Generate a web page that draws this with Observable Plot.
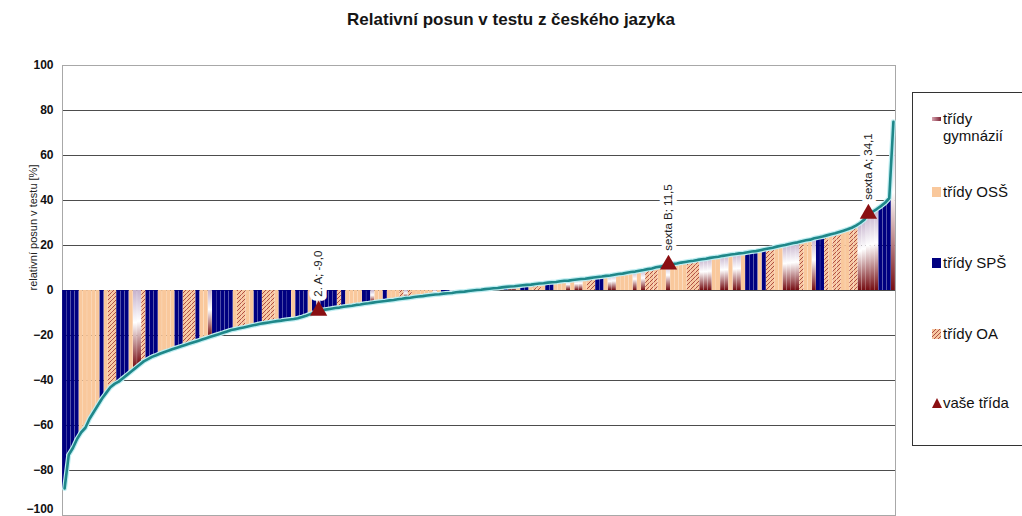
<!DOCTYPE html>
<html>
<head>
<meta charset="utf-8">
<script src="https://cdn.jsdelivr.net/npm/d3@7"></script>
<script src="https://cdn.jsdelivr.net/npm/@observablehq/plot@0.6"></script>
<style>
  html, body { margin: 0; padding: 0; background: #fff; }
  body { width: 1022px; height: 516px; overflow: hidden; position: relative; font-family: "Liberation Sans", Arial, sans-serif; color: #111; }
  #title { position: absolute; left: 0; top: 10px; width: 1022px; text-align: center; font-size: 17px; font-weight: bold; color: #151515; }
  #chart { position: absolute; left: 0; top: 40px; }
  #legend { position: absolute; left: 912px; top: 92px; width: 140px; height: 352px; border: 1px solid #333; background: #fff; }
  .item { position: absolute; left: 20px; font-size: 15px; line-height: 17px; color: #111; white-space: nowrap; }
  .sw { position: absolute; left: -1px; line-height: 0; }
  .sw svg { display: block; }
  .item span { position: absolute; left: 10px; }
</style>
</head>
<body>
<div id="title">Relativní posun v testu z českého jazyka</div>
<div id="chart"></div>
<div id="legend"></div>
<script>
// ---- data ----
const values = [
  -88, -73, -70, -66, -63, -61, -57, -54, -51, -48,
  -45.5, -43, -41.5, -40.5, -39, -37.5, -36, -34.5, -33, -31.5,
  -30.5, -29.5, -28.8, -28, -27.3, -26.7, -26, -25.4, -24.8, -24.2,
  -23.6, -23, -22.4, -21.8, -21.2, -20.6, -20, -19.4, -18.8, -18.2,
  -17.6, -17.2, -16.8, -16.4, -16, -15.6, -15.2, -14.8, -14.5, -14.2,
  -13.9, -13.6, -13.4, -13.1, -12.9, -12.7, -12.3, -11.8, -11.2, -10.5,
  -9.8, -9.0, -8.7, -8.4, -8.1, -7.8, -7.6, -7.2, -7.0, -6.8,
  -6.4, -6.2, -5.9, -5.7, -5.4, -5.1, -4.9, -4.7, -4.4, -4.2,
  -3.9, -3.7, -3.4, -3.2, -2.9, -2.7, -2.5, -2.2, -2.0, -1.8,
  -1.7, -1.4, -1.2, -1.1, -0.8, -0.6, -0.5, -0.2, 0.0, 0.2,
  0.3, 0.6, 0.8, 1.0, 1.1, 1.4, 1.6, 1.8, 1.9, 2.1,
  2.3, 2.5, 2.6, 2.9, 3.1, 3.2, 3.5, 3.7, 3.8, 4.1,
  4.3, 4.4, 4.7, 4.9, 5.1, 5.2, 5.5, 5.8, 6.0, 6.2,
  6.5, 6.7, 7.0, 7.3, 7.5, 7.9, 8.2, 8.4, 8.8, 9.1,
  9.5, 9.8, 10.3, 10.6, 11.1, 11.5, 11.8, 12.0, 12.4, 12.7,
  13.0, 13.2, 13.6, 13.9, 14.1, 14.5, 14.8, 15.0, 15.4, 15.7,
  16.0, 16.2, 16.5, 16.7, 17.0, 17.3, 17.5, 17.9, 18.3, 18.7,
  19.0, 19.5, 19.9, 20.2, 20.7, 21.1, 21.4, 21.9, 22.3, 22.6,
  23.2, 23.6, 24.0, 24.5, 25.0, 25.4, 26.0, 26.6, 27.2, 27.9,
  28.8, 30.0, 31.5, 34.1, 35.0, 36.2, 37.5, 39.0, 41.0, 75.0
];
// G = gymnázium, O = OSŠ, S = SPŠ, A = OA
const types = [
  "S","S","S","S","O","O","O","O","O","S",
  "O","A","A","S","S","S","O","G","G","A",
  "S","S","S","O","O","O","O","S","S","A",
  "A","A","S","O","O","G","S","S","S","S",
  "S","O","A","A","O","O","S","S","A","A",
  "A","O","S","S","S","O","S","S","S","O",
  "S","G","S","S","S","S","A","S","O","O",
  "O","O","S","S","G","O","O","S","O","O",
  "O","A","G","A","O","O","O","O","O","G",
  "O","S","S","G","O","O","O","G","O","O",
  "O","S","O","G","A","O","S","G","G","O",
  "S","S","O","A","A","O","S","S","O","O",
  "O","G","O","G","G","O","A","A","S","S",
  "O","G","G","O","O","O","O","G","O","G",
  "A","A","A","O","O","G","O","O","O","O",
  "A","A","A","G","G","G","O","O","G","G",
  "O","G","G","O","S","S","S","O","S","A",
  "A","O","O","G","G","G","G","A","O","O",
  "G","S","S","A","O","A","A","O","O","A",
  "A","G","G","G","G","G","S","S","S","G"
];
const typeOrder = ["G", "O", "S", "A"];
const typeNames = ["třídy gymnázií", "třídy OSŠ", "třídy SPŠ", "třídy OA"];
const myNames = ["2. A", "sexta B", "sexta A"];
const myRanks = [61, 145, 193];
const myLabel = "vaše třída";
const yTicks = [-80, -60, -40, -20, 0, 20, 40, 60, 80, 100];
const yTickBottom = [-100];
const gridTicks = [-80, -60, -40, -20, 0, 20, 40, 60, 80];
const yLabel = "relativní posun v testu [%]";

// ---- build ----
const data = values.map((v, i) => ({i, v, t: types[i]}));
const mine = myRanks.map((r, k) => ({i: r, v: values[r], name: myNames[k]}));
const fills = {G: "url(#gymGrad)", O: "#f9c89c", S: "#000080", A: "url(#oaPat)"};
const fmt = v => v.toFixed(1).replace(".", ",");
const axisStyle = {tickSize: 0, tickPadding: 9, fontSize: 12, fontWeight: "bold", label: null, fill: "#111"};

const svg = Plot.plot({
  width: 1022,
  height: 495,
  marginLeft: 62,
  marginRight: 127,
  marginTop: 25,
  marginBottom: 20,
  style: {fontFamily: "Liberation Sans, Arial, sans-serif", background: "transparent"},
  x: {domain: [0, values.length], axis: null},
  y: {domain: [-100, 100], axis: null},
  marks: [
    Plot.ruleY(gridTicks, {stroke: "#4d4d4d", strokeWidth: 1.2}),
    Plot.frame({stroke: "#a8a8a8"}),
    ...typeOrder.map(t => Plot.rect(data.filter(d => d.t === t), {
      x1: d => d.i, x2: d => d.i + 1, y1: d => 0, y2: "v",
      fill: fills[t], insetLeft: 0.1, insetRight: 0.1
    })),
    Plot.lineY(data, {x: d => d.i + 0.5, y: "v", stroke: "#bfeef2", strokeWidth: 5}),
    Plot.lineY(data, {x: d => d.i + 0.5, y: "v", stroke: "#1f8789", strokeWidth: 2.6}),
    Plot.dot(mine, {x: d => d.i + 0.5, y: "v", symbol: "triangle", fill: "#8a0f12", r: 6.4}),
    Plot.text(mine, {
      x: d => d.i + 0.5, y: "v", text: d => `${d.name}; ${fmt(d.v)}`,
      rotate: -90, textAnchor: "start", dy: -14, fontSize: 11.5,
      fill: "#222", stroke: "white", strokeWidth: 9
    }),
    Plot.axisY({ticks: yTicks, ...axisStyle}),
    Plot.axisY({ticks: yTickBottom, ...axisStyle, dy: -6}),
    Plot.text([yLabel], {text: d => d, frameAnchor: "left", dx: -29, rotate: -90, fontSize: 11, fill: "#222"})
  ]
});

svg.insertAdjacentHTML("afterbegin", `
<defs>
  <linearGradient id="gymGrad" x1="0" y1="0" x2="0" y2="1">
    <stop offset="0" stop-color="#c5b1cc"/>
    <stop offset="0.42" stop-color="#ffffff"/>
    <stop offset="1" stop-color="#760d12"/>
  </linearGradient>
  <linearGradient id="gymGradH" x1="0" y1="0" x2="1" y2="0">
    <stop offset="0" stop-color="#d6a3b0"/>
    <stop offset="1" stop-color="#7a2030"/>
  </linearGradient>
  <pattern id="oaPat" patternUnits="userSpaceOnUse" width="4" height="4">
    <rect width="4" height="4" fill="#f7c7a0"/>
    <path d="M0,4 L4,0 M-1,1 L1,-1 M3,5 L5,3" stroke="#a8423a" stroke-width="0.9"/>
  </pattern>
</defs>`);
document.getElementById("chart").appendChild(svg);

// ---- legend ----
const legend = document.getElementById("legend");
const swatchSvg = {
  G: `<svg width="9" height="4"><rect width="9" height="4" fill="url(#gymGradH)"/></svg>`,
  O: `<svg width="9" height="10"><rect width="9" height="10" fill="#f9c89c"/></svg>`,
  S: `<svg width="9" height="10"><rect width="9" height="10" fill="#000080"/></svg>`,
  A: `<svg width="9" height="10"><rect width="9" height="10" fill="url(#oaPat)"/></svg>`,
  T: `<svg width="10" height="10"><path d="M5,0 L10,10 L0,10 Z" fill="#8a0f12"/></svg>`
};
const entries = [
  {k: "G", top: 17, label: "třídy<br>gymnázií", swTop: 7},
  {k: "O", top: 90, label: typeNames[1], swTop: 4},
  {k: "S", top: 161, label: typeNames[2], swTop: 4},
  {k: "A", top: 232, label: typeNames[3], swTop: 4},
  {k: "T", top: 301, label: myLabel, swTop: 4}
];
for (const e of entries) {
  const div = document.createElement("div");
  div.className = "item";
  div.style.top = e.top + "px";
  div.innerHTML = `<div class="sw" style="top:${e.swTop}px">${swatchSvg[e.k]}</div><span>${e.label}</span>`;
  legend.appendChild(div);
}
</script>
</body>
</html>
